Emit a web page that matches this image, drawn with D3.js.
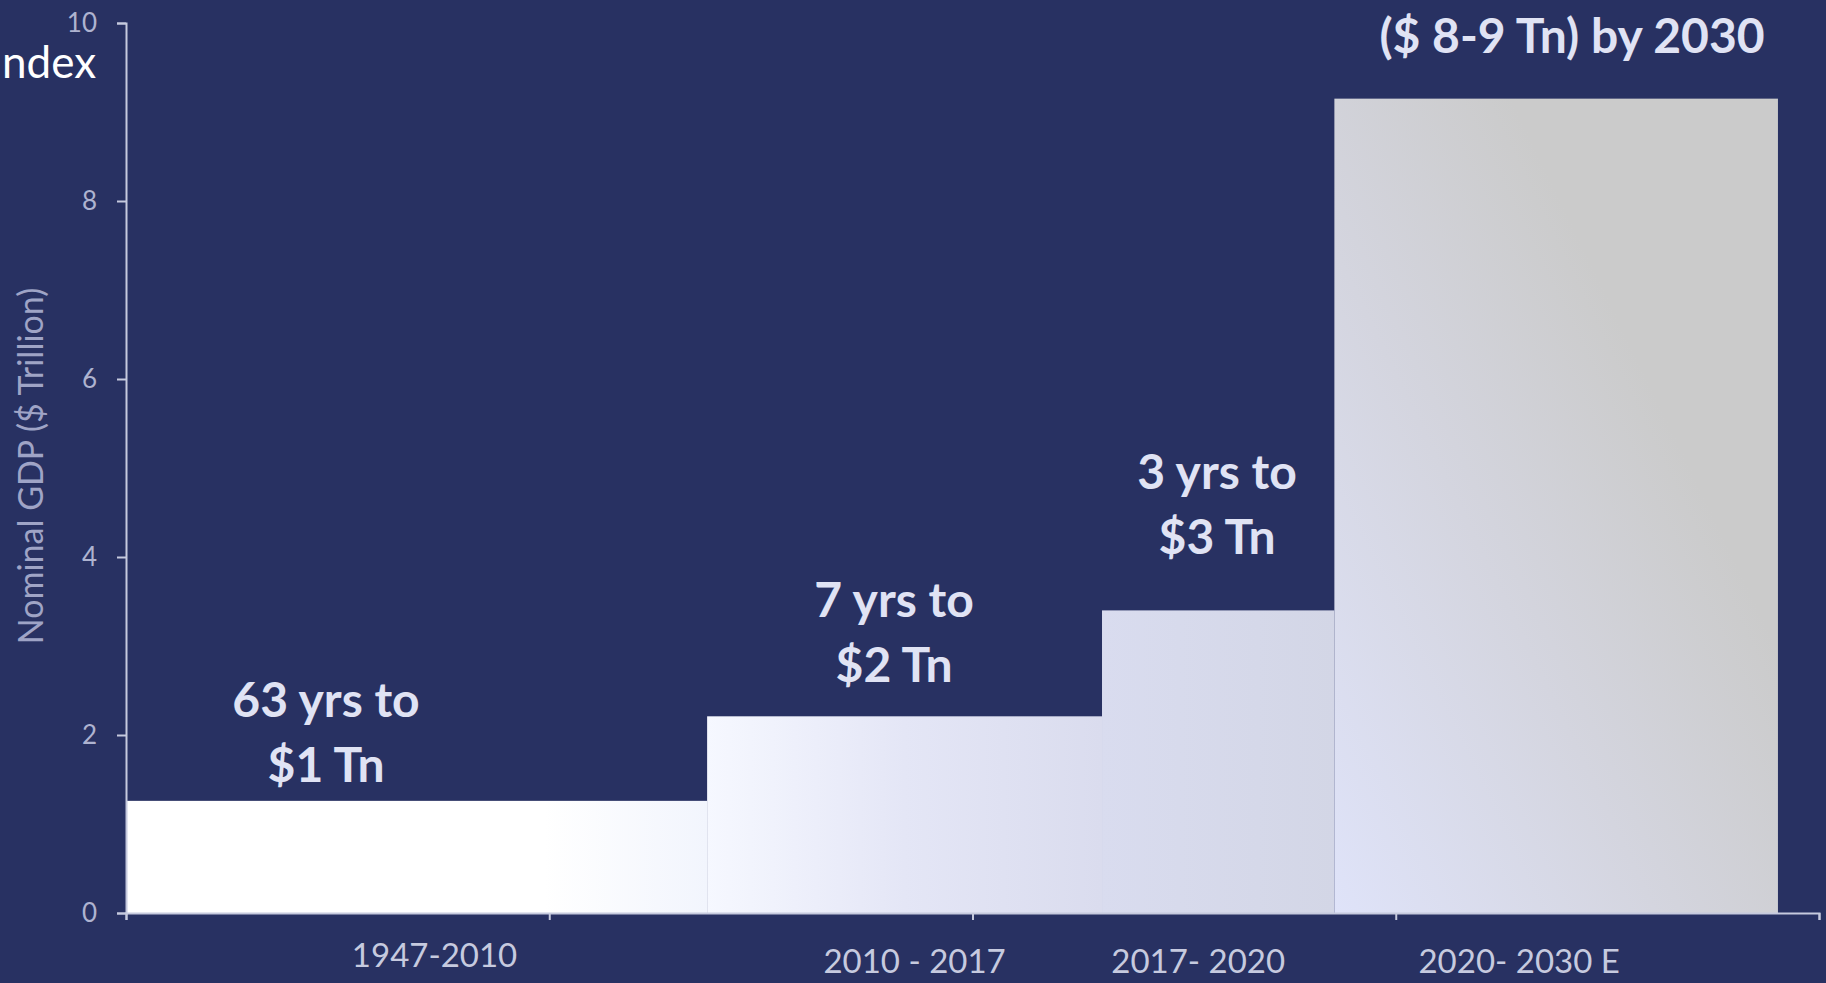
<!DOCTYPE html>
<html>
<head>
<meta charset="utf-8">
<script src="https://cdn.jsdelivr.net/npm/d3@7"></script>
<style>
  body { margin: 0; background: #283162; overflow: hidden; }
  svg { display: block; }
  .axis path, .axis line { stroke: #c6cade; stroke-width: 2; }
  .axis text { fill: #aeb3d0; font-family: Lato, sans-serif; font-size: 26px; }
</style>
</head>
<body>
<div id="chart"></div>
<script>
// periodos y PIB nominal (billones USD)
var periods = ["1947-2010", "2010 - 2017", "2017- 2020", "2020- 2030 E"];
var gdp = [1.26, 2.21, 3.40, 9.15];
// bordes de cada barra en unidades del eje x
var barStart = [0, 1.373, 2.306, 2.855];
var barEnd = [1.373, 2.306, 2.855, 3.903];
var notes = [["63 yrs to", "$1 Tn"], ["7 yrs to", "$2 Tn"], ["3 yrs to", "$3 Tn"], ["($ 8-9 Tn) by 2030"]];
var yTicks = [0, 2, 4, 6, 8, 10];
var xTicks = [0, 1, 2, 3, 4];

var width = 1826, height = 983;
var margin = {top: 23, right: 7, bottom: 70, left: 126};

var x = d3.scaleLinear().domain([0, 4]).range([margin.left, width - margin.right]);
var y = d3.scaleLinear().domain([0, 10]).range([height - margin.bottom, margin.top]);

var svg = d3.select("#chart").append("svg")
    .attr("width", width)
    .attr("height", height);

// gradientes de las barras
var grads = [
    {id: "g0", x1: 0, y1: 0, x2: 1, y2: 0, stops: [[0, "#ffffff"], [0.72, "#ffffff"], [1, "#f2f5fd"]]},
    {id: "g1", x1: 0, y1: 0, x2: 1, y2: 0, stops: [[0, "#f6f8ff"], [0.5, "#e4e6f6"], [1, "#dadcee"]]},
    {id: "g2", x1: 0, y1: 0, x2: 1, y2: 0, stops: [[0, "#d9dcef"], [1, "#d3d6e6"]]},
    {id: "g3", x1: 0, y1: 1, x2: 0.9, y2: 0.2, stops: [[0, "#dfe3f9"], [0.45, "#d4d5df"], [0.8, "#cbcbcb"], [1, "#cbcbcb"]]}
];
var defs = svg.append("defs");
grads.forEach(function(g) {
    var lg = defs.append("linearGradient").attr("id", g.id)
        .attr("x1", g.x1).attr("y1", g.y1).attr("x2", g.x2).attr("y2", g.y2);
    g.stops.forEach(function(s) {
        lg.append("stop").attr("offset", s[0]).attr("stop-color", s[1]);
    });
});

svg.selectAll(".bar")
    .data(gdp)
    .enter().append("rect")
    .attr("class", "bar")
    .attr("x", function(d, i) { return x(barStart[i]); })
    .attr("width", function(d, i) { return x(barEnd[i]) - x(barStart[i]); })
    .attr("y", function(d) { return y(d); })
    .attr("height", function(d) { return y(0) - y(d); })
    .attr("fill", function(d, i) { return "url(#g" + i + ")"; });

// ejes
svg.append("g")
    .attr("class", "x axis")
    .attr("transform", "translate(0," + y(0) + ")")
    .call(d3.axisBottom(x).tickValues(xTicks).tickSize(7).tickFormat(""));

svg.append("g")
    .attr("class", "y axis")
    .attr("transform", "translate(" + margin.left + ",0)")
    .call(d3.axisLeft(y).tickValues(yTicks).tickSize(9).tickPadding(20));

// etiquetas de periodo
var labelShift = [[18, -6], [10, 0], [-20, 0], [-37, 0]];
svg.selectAll(".period")
    .data(periods)
    .enter().append("text")
    .attr("class", "period")
    .attr("x", function(d, i) { return (x(barStart[i]) + x(barEnd[i])) / 2 + labelShift[i][0]; })
    .attr("y", function(d, i) { return y(0) + 60 + labelShift[i][1]; })
    .attr("text-anchor", "middle")
    .style("font-family", "Lato, sans-serif")
    .style("font-size", "33px")
    .style("fill", "#c6cadf")
    .text(function(d) { return d; });

// anotaciones
var notePos = [[326, 700], [894, 600], [1217, 472], [1572, 36]];
notes.forEach(function(lines, i) {
    var t = svg.append("text")
        .attr("text-anchor", "middle")
        .style("font-family", "Lato, sans-serif")
        .style("font-weight", 700)
        .style("font-size", "48px")
        .style("fill", "#e0e3f4");
    lines.forEach(function(l, j) {
        t.append("tspan")
            .attr("x", notePos[i][0])
            .attr("y", notePos[i][1] + j * 65)
            .attr("dy", "0.35em")
            .text(l);
    });
});

// titulo eje y
svg.append("text")
    .attr("transform", "translate(31," + (y(5) - 2) + ") rotate(-90)")
    .attr("text-anchor", "middle")
    .attr("dy", "0.35em")
    .style("font-family", "Lato, sans-serif")
    .style("font-size", "34px")
    .style("fill", "#9fa4c6")
    .text("Nominal GDP ($ Trillion)");

// resto del titulo
svg.append("text")
    .attr("x", 2)
    .attr("y", 78)
    .style("font-family", "Lato, sans-serif")
    .style("font-size", "44px")
    .style("fill", "#ffffff")
    .text("ndex");
</script>
</body>
</html>
